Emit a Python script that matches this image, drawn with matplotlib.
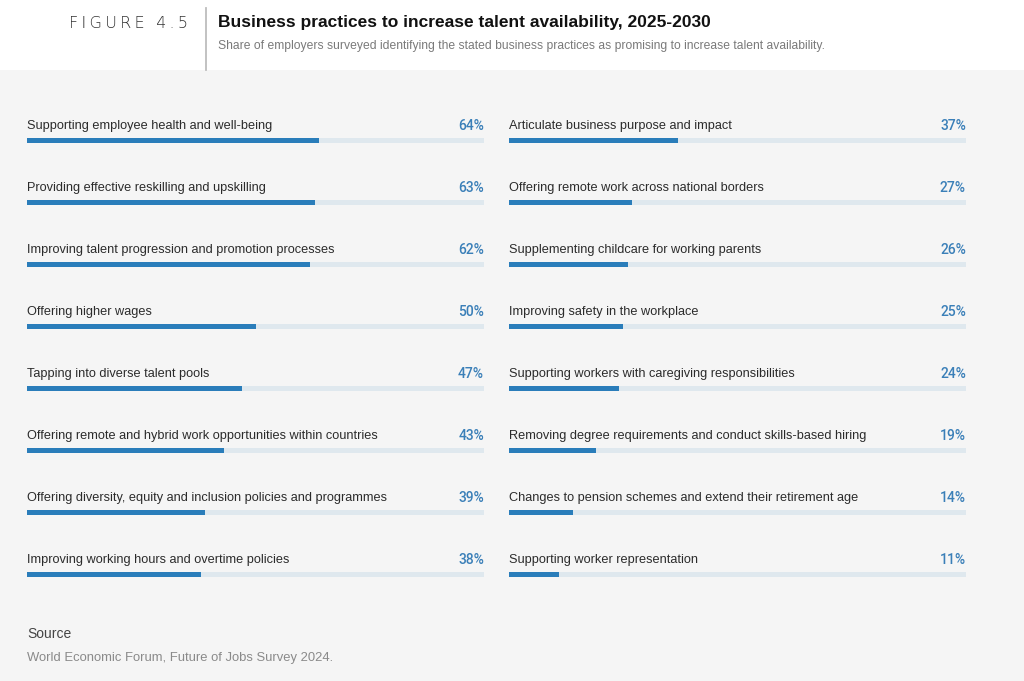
import numpy as np
import matplotlib.pyplot as plt
from matplotlib.patches import Rectangle

plt.rcParams['font.family'] = ['Liberation Sans', 'DejaVu Sans']

left_labels = [
    "Supporting employee health and well-being",
    "Providing effective reskilling and upskilling",
    "Improving talent progression and promotion processes",
    "Offering higher wages",
    "Tapping into diverse talent pools",
    "Offering remote and hybrid work opportunities within countries",
    "Offering diversity, equity and inclusion policies and programmes",
    "Improving working hours and overtime policies",
]
left_values = [64, 63, 62, 50, 47, 43, 39, 38]

right_labels = [
    "Articulate business purpose and impact",
    "Offering remote work across national borders",
    "Supplementing childcare for working parents",
    "Improving safety in the workplace",
    "Supporting workers with caregiving responsibilities",
    "Removing degree requirements and conduct skills-based hiring",
    "Changes to pension schemes and extend their retirement age",
    "Supporting worker representation",
]
right_values = [37, 27, 26, 25, 24, 19, 14, 11]

W, H = 1024, 681
BLUE = '#2a7dba'
TRACK = '#dfe8ee'
BG = '#f5f5f5'

fig = plt.figure(figsize=(W / 100, H / 100), dpi=100)
fig.patch.set_facecolor('white')

# grey panel below the header
fig.patches.append(Rectangle((0, 0), 1, 1 - 70 / H, transform=fig.transFigure,
                             facecolor=BG, edgecolor='none', zorder=-5))
# divider line in header
fig.add_artist(plt.Line2D([206 / W, 206 / W], [1 - 8 / H, 1 - 70 / H],
                          transform=fig.transFigure, color='#bdbdbd', lw=1.3))

fig.text(188 / W, 1 - 23 / H, "F\u2009I\u2009G\u2009U\u2009R\u2009E\u2009 \u20094\u2009.\u20095",
         ha='right', va='center', fontsize=11.5, color='#333333', family=['DejaVu Sans'],
         fontweight='light')
fig.text(218 / W, 1 - 23 / H, "Business practices to increase talent availability, 2025-2030",
         ha='left', va='center', fontsize=12.5, fontweight='bold', color='#111111')
fig.text(218 / W, 1 - 46 / H,
         "Share of employers surveyed identifying the stated business practices as promising to increase talent availability.",
         ha='left', va='center', fontsize=8.75, color='#7a7a7a')

fig.text(27 / W, 1 - 634 / H, "Source", ha='left', va='center', fontsize=10, color='#444444')
fig.text(27 / W, 1 - 658 / H, "World Economic Forum, Future of Jobs Survey 2024.",
         ha='left', va='center', fontsize=9.4, color='#8a8a8a')

row_px = 62
top_px = 140 - row_px / 2
n = len(left_labels)
bottom_px = top_px + n * row_px


def draw_column(x0_px, labels, values):
    ax = fig.add_axes([x0_px / W, 1 - bottom_px / H, 457 / W, n * row_px / H])
    ax.set_xlim(0, 100)
    ax.set_ylim(n - 0.5, -0.5)
    ax.axis('off')
    y = np.arange(n)
    h = 5 / row_px
    ax.barh(y, [100] * n, height=h, color=TRACK, edgecolor='none')
    ax.barh(y, values, height=h, color=BLUE, edgecolor='none')
    off = 14.5 / row_px
    for i, (lab, v) in enumerate(zip(labels, values)):
        ax.text(0, i - off, lab, ha='left', va='center', fontsize=9.2, color='#2b2b2b')
        ax.text(100, i - off, f"{v}%", ha='right', va='center', fontsize=10,
                color='#3a7fb8', family=['Roboto', 'DejaVu Sans'], fontweight='medium')
    return ax


draw_column(27, left_labels, left_values)
draw_column(509, right_labels, right_values)

fig.savefig('out.png', dpi=100, facecolor=fig.get_facecolor())
